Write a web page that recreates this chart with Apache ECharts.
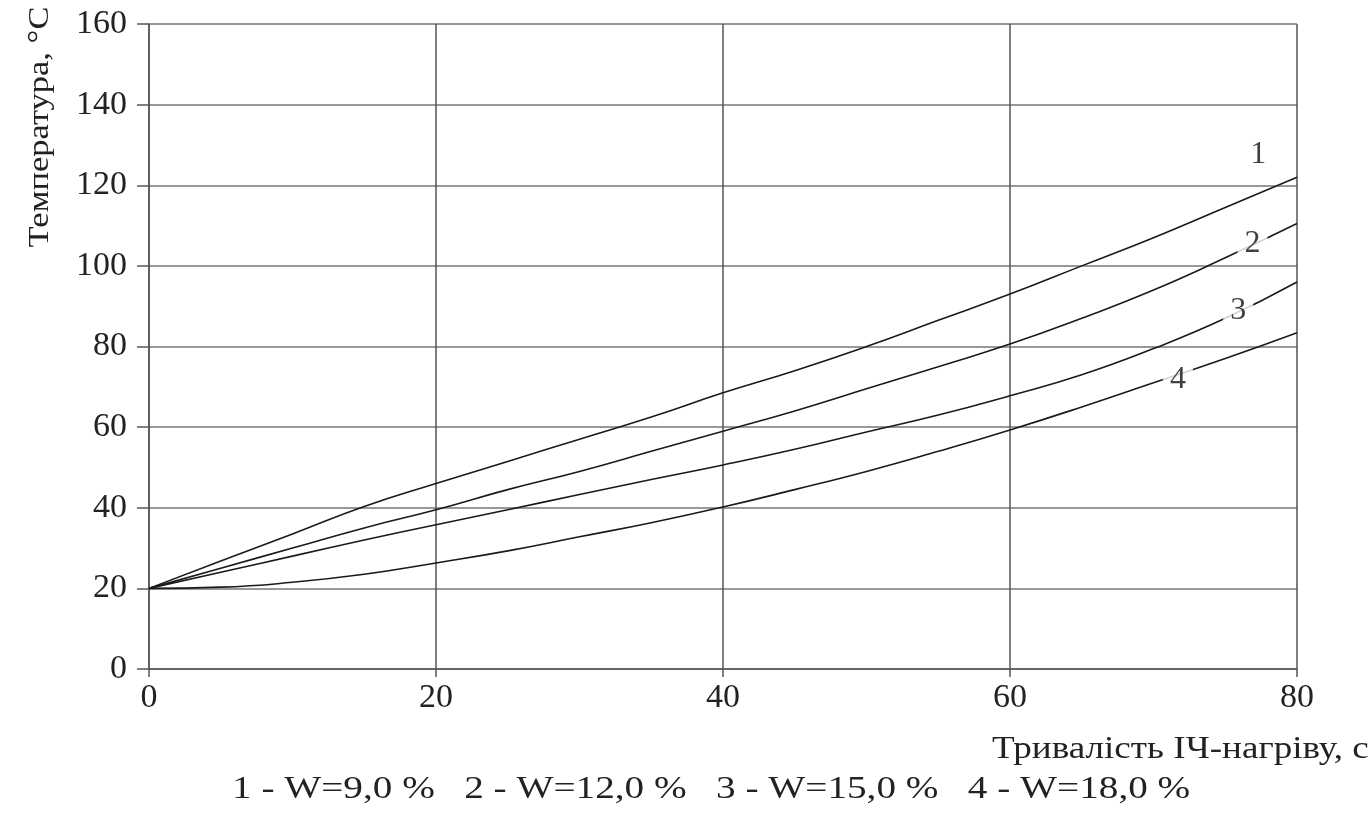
<!DOCTYPE html>
<html><head><meta charset="utf-8">
<script src="https://cdn.jsdelivr.net/npm/echarts@6/dist/echarts.min.js"></script>
<style>html,body{margin:0;padding:0;background:#fff}#c{width:1371px;height:819px}</style>
</head><body><div id="c"></div>
<script>
var xValues = [0,5,10,15,20,25,30,35,40,45,50,55,60,65,70,75,80];
var curve1 = [20,26.8,33.5,40.3,46,51.5,57,62.5,68.5,74,80,86.5,93,100,107,114.5,122];
var curve2 = [20,25,30,35,39.5,44.5,49,54,59,64,69.5,75,80.6,87,94,102,110.5];
var curve3 = [20,24,28,32,35.8,39.5,43.3,47,50.6,54.5,58.8,63,67.8,73,79.5,87,96];
var curve4 = [20,20.3,21.5,23.5,26.3,29.3,32.8,36.3,40.2,44.5,49,54,59.3,65,71,77,83.4];
var curveNames = ['1','2','3','4'];
var curveLabelX = [77.3, 76.9, 75.9, 71.7];
var curveLabelY = [127.5, 105.5, 88.8, 71.8];
var yTicks = [0,20,40,60,80,100,120,140,160];
var xTicks = [0,20,40,60,80];
var yAxisTitle = 'Температура, °С';
var xAxisTitle = 'Тривалість ІЧ-нагріву, с';
var legendText = '1 - W=9,0 %   2 - W=12,0 %   3 - W=15,0 %   4 - W=18,0 %';

var font = '"Liberation Serif", "DejaVu Serif", serif';
function pairs(ys){ return xValues.map(function(x,i){ return [x, ys[i]]; }); }
var allCurves = [curve1, curve2, curve3, curve4];
var series = allCurves.map(function(c, i){
  return {
    name: curveNames[i], type: 'line', data: pairs(c), smooth: true, symbol: 'none',
    lineStyle: {color: '#1a1a1a', width: 1.6}, z: 3
  };
});
series.push({
  type: 'scatter', symbolSize: 0, z: 5,
  data: curveNames.map(function(n, i){ return [curveLabelX[i], curveLabelY[i], n]; }),
  label: {
    show: true, position: 'inside', formatter: function(p){ return p.value[2]; },
    color: '#111', fontFamily: font, fontSize: 32,
    backgroundColor: '#fff', padding: [0, 7, 0, 7]
  }
});

var chart = echarts.init(document.getElementById('c'));
chart.setOption({
  backgroundColor: '#fff',
  animation: false,
  grid: {left: 149, right: 74, top: 24, bottom: 150},
  xAxis: {
    type: 'value', min: 0, max: 80, interval: 20,
    axisLine: {show: true, lineStyle: {color: '#555', width: 1.5}},
    axisTick: {show: true, length: 8, lineStyle: {color: '#555', width: 1.5}},
    axisLabel: {color: '#222', fontFamily: font, fontSize: 34, margin: 12,
      formatter: function(v){ return xTicks.indexOf(v) >= 0 ? String(v) : ''; }},
    splitLine: {show: true, lineStyle: {color: '#555', width: 1.5}}
  },
  yAxis: {
    type: 'value', min: 0, max: 160, interval: 20,
    axisLine: {show: true, lineStyle: {color: '#555', width: 1.5}},
    axisTick: {show: true, length: 12, lineStyle: {color: '#555', width: 1.5}},
    axisLabel: {color: '#222', fontFamily: font, fontSize: 34, margin: 22,
      formatter: function(v){ return yTicks.indexOf(v) >= 0 ? String(v) : ''; }},
    splitLine: {show: true, lineStyle: {color: '#777', width: 1.5}}
  },
  graphic: [
    {type: 'text', x: 40, y: 127, rotation: Math.PI / 2, scaleX: 1.15,
     style: {text: yAxisTitle, font: '30px ' + font, fill: '#222', align: 'center', verticalAlign: 'middle'}},
    {type: 'text', x: 992, y: 750, scaleX: 1.16,
     style: {text: xAxisTitle, font: '32px ' + font, fill: '#222', align: 'left', verticalAlign: 'middle'}},
    {type: 'text', x: 232, y: 790, scaleX: 1.225,
     style: {text: legendText, font: '32px ' + font, fill: '#222', align: 'left', verticalAlign: 'middle'}}
  ],
  series: series
});
</script></body></html>
